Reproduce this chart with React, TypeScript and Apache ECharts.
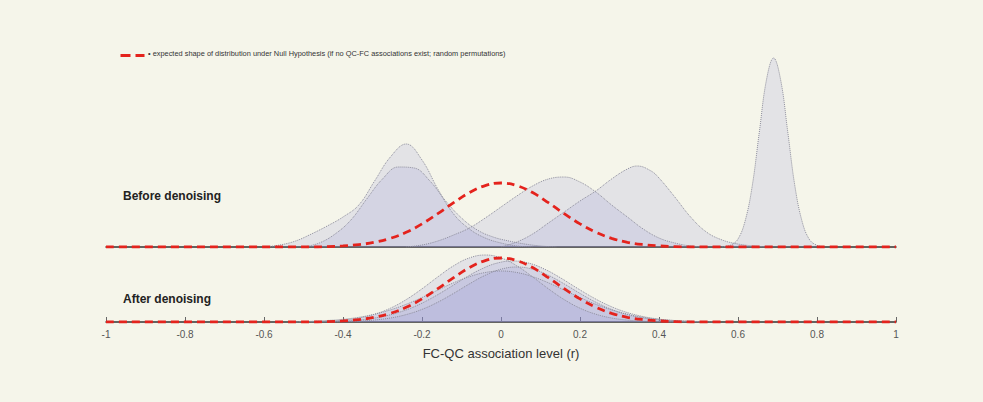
import React, { useEffect, useRef } from "react";
import * as echarts from "echarts";

type Pt = [number, number];

// Before denoising distributions (x = r, y = density height in px units)
const beforeA: Pt[] = [[-0.6,0],[-0.56,2],[-0.52,6],[-0.48,13],[-0.44,21],[-0.4,30],[-0.36,42],[-0.32,66],[-0.28,90],[-0.24,103],[-0.2,87],[-0.16,58],[-0.12,33],[-0.08,18],[-0.04,9],[0,4],[0.04,1],[0.08,0]];
const beforeB: Pt[] = [[-0.5,0],[-0.46,4],[-0.42,13],[-0.38,27],[-0.34,48],[-0.3,68],[-0.26,80],[-0.22,79],[-0.18,66],[-0.14,46],[-0.1,29],[-0.06,17],[-0.02,10],[0.02,6],[0.06,3],[0.1,1],[0.14,0]];
const beforeC: Pt[] = [[-0.24,0],[-0.2,2],[-0.16,6],[-0.12,12],[-0.08,19],[-0.04,29],[0,40],[0.04,51],[0.08,61],[0.12,68],[0.16,70],[0.2,65],[0.24,55],[0.28,42],[0.32,30],[0.36,18],[0.4,9],[0.44,4],[0.48,1],[0.52,0]];
const beforeD: Pt[] = [[0,0],[0.04,5],[0.08,13],[0.12,24],[0.16,35],[0.2,46],[0.24,56],[0.28,68],[0.32,78],[0.345,81],[0.38,76],[0.4,69],[0.44,50],[0.48,30],[0.52,15],[0.56,7],[0.6,3],[0.64,1],[0.68,0]];
const beforeE: Pt[] = [[0.56,0],[0.582,2],[0.6,8],[0.618,26],[0.636,61],[0.654,115],[0.672,167],[0.69,189],[0.708,167],[0.726,115],[0.744,61],[0.762,26],[0.78,8],[0.798,2],[0.82,0]];

// After denoising distributions
const afterA: Pt[] = [[-0.52,0],[-0.48,0.3],[-0.44,0.8],[-0.4,1.9],[-0.36,4],[-0.32,7.8],[-0.28,13.8],[-0.24,22.4],[-0.2,33.2],[-0.16,45.1],[-0.12,56.2],[-0.08,64.1],[-0.04,67],[0,64.1],[0.04,56.2],[0.08,45.1],[0.12,33.2],[0.16,22.4],[0.2,13.8],[0.24,7.8],[0.28,4],[0.32,1.9],[0.36,0.8],[0.4,0.3],[0.44,0]];
const afterB: Pt[] = [[-0.49,0],[-0.45,0.3],[-0.41,0.8],[-0.37,1.7],[-0.33,3.4],[-0.29,6.3],[-0.25,10.7],[-0.21,17],[-0.17,25.1],[-0.13,34.5],[-0.09,44.3],[-0.05,52.9],[-0.01,58.9],[0.03,61],[0.07,58.9],[0.11,52.9],[0.15,44.3],[0.19,34.5],[0.23,25.1],[0.27,17],[0.31,10.7],[0.35,6.3],[0.39,3.4],[0.43,1.7],[0.47,0.8],[0.51,0.3],[0.55,0]];
const afterC: Pt[] = [[-0.52,0],[-0.48,0.7],[-0.44,1.5],[-0.4,2.7],[-0.36,4.7],[-0.32,7.8],[-0.28,12.1],[-0.24,17.7],[-0.2,24.5],[-0.16,31.9],[-0.12,39.2],[-0.08,45.3],[-0.04,49.5],[0,51],[0.04,49.5],[0.08,45.3],[0.12,39.2],[0.16,31.9],[0.2,24.5],[0.24,17.7],[0.28,12.1],[0.32,7.8],[0.36,4.7],[0.4,2.7],[0.44,1.5],[0.48,0.7],[0.52,0]];
const afterD: Pt[] = [[-0.44,0],[-0.4,0.4],[-0.36,0.9],[-0.32,2],[-0.28,4],[-0.24,7.4],[-0.2,12.6],[-0.16,19.8],[-0.12,28.6],[-0.08,38.1],[-0.04,46.7],[0,52.8],[0.04,55],[0.08,52.8],[0.12,46.7],[0.16,38.1],[0.2,28.6],[0.24,19.8],[0.28,12.6],[0.32,7.4],[0.36,4],[0.4,2],[0.44,0.9],[0.48,0.4],[0.52,0]];

// Null-hypothesis shape (random permutations)
const nullShape: Pt[] = [[-1,0],[-0.48,0],[-0.44,0.4],[-0.4,1.1],[-0.36,2.4],[-0.32,4.7],[-0.28,8.7],[-0.24,14.7],[-0.2,23.1],[-0.16,33.3],[-0.12,44.3],[-0.08,54.4],[-0.04,61.4],[0,64],[0.04,61.4],[0.08,54.4],[0.12,44.3],[0.16,33.3],[0.2,23.1],[0.24,14.7],[0.28,8.7],[0.32,4.7],[0.36,2.4],[0.4,1.1],[0.44,0.4],[0.48,0],[1,0]];

const nullName = "• expected shape of distribution under Null Hypothesis (if no QC-FC associations exist; random permutations)";
const panelLabels = ["Before denoising", "After denoising"];
const axisTitle = "FC-QC association level (r)";

const BG = "#f5f5ea";
const FILL = "rgba(145,145,215,0.17)";
const OUTLINE = "#8d8d9c";
const RED = "#e4231d";

function areaSeries(data: Pt[], idx: number) {
  return {
    type: "line",
    xAxisIndex: idx,
    yAxisIndex: idx,
    data,
    smooth: 0.4,
    symbol: "none",
    silent: true,
    lineStyle: { color: OUTLINE, width: 1, type: "dotted" },
    areaStyle: { color: FILL, opacity: 1, origin: "start" },
    z: 2,
  };
}

function nullSeries(idx: number) {
  return {
    name: nullName,
    type: "line",
    xAxisIndex: idx,
    yAxisIndex: idx,
    data: nullShape,
    smooth: 0.4,
    symbol: "none",
    silent: true,
    color: RED,
    lineStyle: { color: RED, width: 2.8, type: [8, 5] },
    z: 5,
  };
}

export default function App() {
  const ref = useRef<HTMLDivElement>(null);
  useEffect(() => {
    if (!ref.current) return;
    const chart = echarts.init(ref.current, null, { renderer: "svg" });
    const font = '"Liberation Sans", Arial, sans-serif';
    chart.setOption({
      animation: false,
      backgroundColor: BG,
      grid: [
        { left: 106, right: 87, top: 47, height: 200 },
        { left: 106, right: 87, top: 222, height: 100 },
      ],
      xAxis: [
        {
          type: "value", gridIndex: 0, min: -1, max: 1,
          axisLine: { show: true, lineStyle: { color: "#333", width: 1.5 } },
          axisTick: { show: false }, axisLabel: { show: false }, splitLine: { show: false },
        },
        {
          type: "value", gridIndex: 1, min: -1, max: 1, interval: 0.2,
          axisLine: { show: true, lineStyle: { color: "#333", width: 1.5 } },
          axisTick: { show: true, inside: true, length: 5, lineStyle: { color: "#666" } },
          axisLabel: {
            color: "#555", fontSize: 10, margin: 7, fontFamily: '"Liberation Sans Narrow", "Liberation Sans", Arial',
            formatter: (v: number) => String(Number(v.toFixed(1))),
          },
          splitLine: { show: false },
          name: axisTitle, nameLocation: "middle", nameGap: 25,
          nameTextStyle: { fontSize: 13, color: "#333", fontFamily: font },
        },
      ],
      yAxis: [
        { type: "value", gridIndex: 0, min: 0, max: 200, show: false },
        { type: "value", gridIndex: 1, min: 0, max: 100, show: false },
      ],
      graphic: [
        {
          type: "line", left: 118, top: 53,
          shape: { x1: 0, y1: 0, x2: 24, y2: 0 },
          style: { stroke: RED, lineWidth: 2.8, lineDash: [10, 5] },
        },
        { type: "text", left: 148, top: 50, style: { text: nullName, font: `7.4px ${font}`, fill: "#333" } },
        { type: "text", left: 123, top: 190, style: { text: panelLabels[0], font: `bold 12px ${font}`, fill: "#222" } },
        { type: "text", left: 123, top: 293, style: { text: panelLabels[1], font: `bold 12px ${font}`, fill: "#222" } },
      ],
      series: [
        areaSeries(beforeA, 0),
        areaSeries(beforeB, 0),
        areaSeries(beforeC, 0),
        areaSeries(beforeD, 0),
        areaSeries(beforeE, 0),
        areaSeries(afterA, 1),
        areaSeries(afterB, 1),
        areaSeries(afterC, 1),
        areaSeries(afterD, 1),
        nullSeries(0),
        nullSeries(1),
      ],
    });
    return () => chart.dispose();
  }, []);
  return (
    <div
      ref={ref}
      style={{ position: "fixed", left: 0, top: 0, width: 983, height: 402, background: BG }}
    />
  );
}
